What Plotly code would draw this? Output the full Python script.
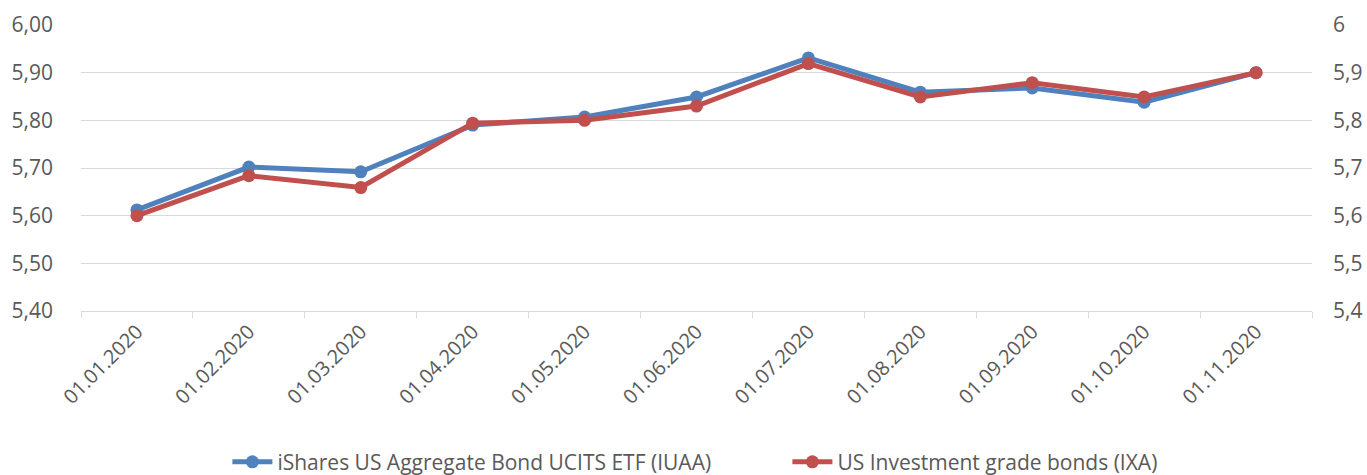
import plotly.graph_objects as go

dates = ["01.01.2020", "01.02.2020", "01.03.2020", "01.04.2020", "01.05.2020", "01.06.2020",
         "01.07.2020", "01.08.2020", "01.09.2020", "01.10.2020", "01.11.2020"]
iuaa = [5.612, 5.702, 5.692, 5.790, 5.807, 5.849, 5.931, 5.859, 5.868, 5.838, 5.900]
ixa = [5.600, 5.684, 5.659, 5.794, 5.800, 5.830, 5.919, 5.849, 5.879, 5.849, 5.900]
name_iuaa = "iShares US Aggregate Bond UCITS ETF (IUAA)"
name_ixa = "US Investment grade bonds (IXA)"

BLUE = "#4F81BD"
RED = "#C0504D"
GRID = "#D9D9D9"
TXT = "#595959"
FONT = "Open Sans"
FS = 21

fig = go.Figure()
fig.add_trace(go.Scatter(x=dates, y=iuaa, name=name_iuaa, mode="lines+markers",
                         line=dict(color=BLUE, width=5), marker=dict(color=BLUE, size=13)))
fig.add_trace(go.Scatter(x=dates, y=ixa, name=name_ixa, mode="lines+markers", yaxis="y2",
                         line=dict(color=RED, width=5), marker=dict(color=RED, size=13)))

fig.update_layout(
    width=1367, height=475,
    margin=dict(l=81, r=55, t=25, b=164, autoexpand=False),
    paper_bgcolor="white", plot_bgcolor="white",
    separators=", ",
    font=dict(family=FONT, color=TXT, size=FS),
    showlegend=True,
    legend=dict(orientation="h", xref="container", yref="container",
                x=0.576, xanchor="center", y=0.027, yanchor="middle",
                font=dict(size=FS, color=TXT), itemwidth=40, tracegroupgap=0,
                entrywidth=505),
    xaxis=dict(type="category", range=[-0.5, 10.5], showgrid=False, showline=True,
               linecolor=GRID, linewidth=1,
               ticks="outside", tickson="boundaries", ticklen=6, tickcolor=GRID,
               tickangle=-45, tickfont=dict(size=20, color=TXT), automargin=False),
    yaxis=dict(range=[5.4, 6.0], dtick=0.1, tickformat=".2f", showgrid=True, gridcolor=GRID,
               gridwidth=1, zeroline=False, showline=False, tickfont=dict(size=FS, color=TXT),
               ticks="", ticklabelstandoff=27, automargin=False),
    yaxis2=dict(range=[5.4, 6.0], dtick=0.1, overlaying="y", side="right", showgrid=False,
                zeroline=False, showline=False, tickfont=dict(size=FS, color=TXT),
                ticks="", ticklabelstandoff=20, automargin=False),
)

fig.write_html("out.html", config={"displayModeBar": False},
               post_script="document.body.style.margin='0';document.body.style.overflow='hidden';")
